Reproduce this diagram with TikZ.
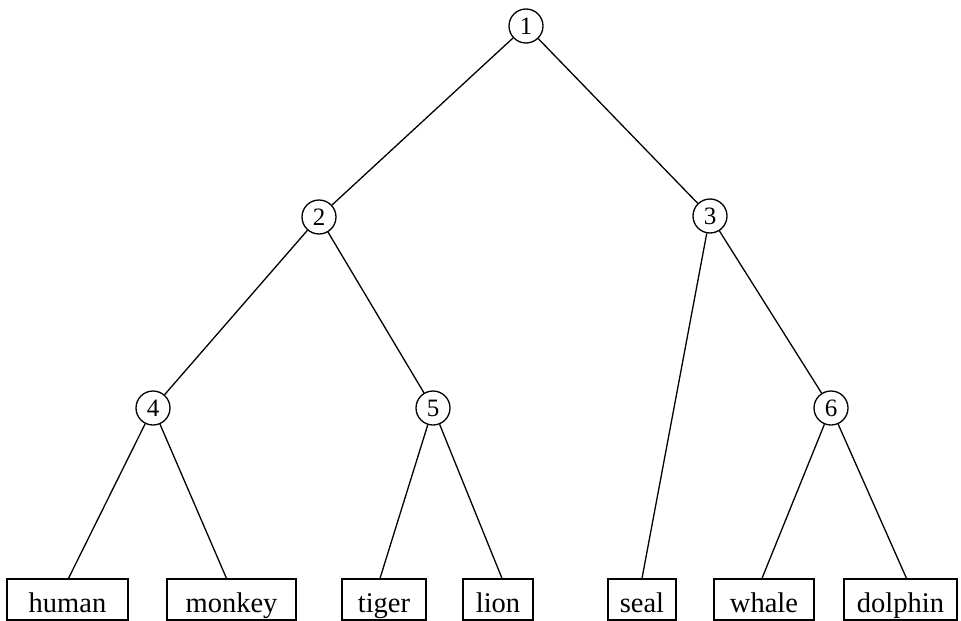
\documentclass[tikz,border=0pt]{standalone}
\usepackage{fontspec}
\setmainfont{Liberation Serif}
\begin{document}
\begin{tikzpicture}[x=1pt,y=-1pt,
  line width=1.3pt,
  inner/.style={circle,draw,minimum size=34pt,inner sep=0pt,
    font=\fontsize{25}{27}\selectfont},
  leaf/.style={rectangle,draw,minimum height=41pt,inner sep=0pt,
    text height=26pt,text depth=0pt,
    font=\fontsize{28.5}{30}\selectfont},
  edge/.style={draw}]
\useasboundingbox (0,0) rectangle (961,621);
% internal nodes
\node[inner] (n1) at (526,26) {1};
\node[inner] (n2) at (319,217) {2};
\node[inner] (n3) at (710,216) {3};
\node[inner] (n4) at (153,408) {4};
\node[inner] (n5) at (433,408) {5};
\node[inner] (n6) at (831,408) {6};
% leaves
\node[leaf,minimum width=121pt] (human)   at (67.5,599.5) {human};
\node[leaf,minimum width=129pt] (monkey)  at (231.5,599.5) {monkey};
\node[leaf,minimum width=84pt]  (tiger)   at (384,599.5) {tiger};
\node[leaf,minimum width=70pt]  (lion)    at (498,599.5) {lion};
\node[leaf,minimum width=68pt]  (seal)    at (642,599.5) {seal};
\node[leaf,minimum width=100pt] (whale)   at (764,599.5) {whale};
\node[leaf,minimum width=113pt] (dolphin) at (900.5,599.5) {dolphin};
% branches
\draw[edge] (n1) -- (n2);
\draw[edge] (n1) -- (n3);
\draw[edge] (n2) -- (n4);
\draw[edge] (n2) -- (n5);
\draw[edge] (n3) -- (seal.north);
\draw[edge] (n3) -- (n6);
\draw[edge] (n4) -- ([xshift=1pt]human.north);
\draw[edge] (n4) -- ([xshift=-5pt]monkey.north);
\draw[edge] (n5) -- ([xshift=-4pt]tiger.north);
\draw[edge] (n5) -- ([xshift=4pt]lion.north);
\draw[edge] (n6) -- ([xshift=-2pt]whale.north);
\draw[edge] (n6) -- ([xshift=6pt]dolphin.north);
\end{tikzpicture}
\end{document}
